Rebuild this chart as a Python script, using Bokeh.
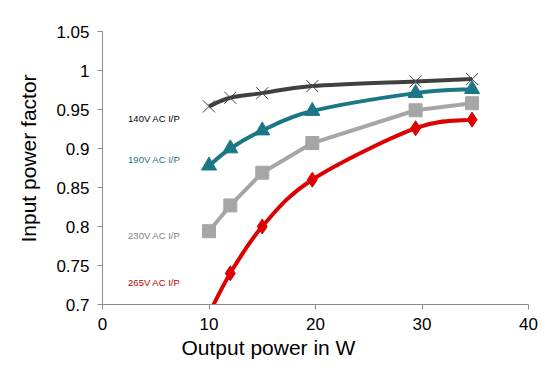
from bokeh.plotting import figure
from bokeh.models import Label, FixedTicker, CustomJSTickFormatter, Range1d, Title
from bokeh.embed import file_html
from bokeh.resources import INLINE

# ---- data ----
x_140 = [10, 12, 15, 19.7, 29.4, 34.7]
pf_140 = [0.954, 0.965, 0.971, 0.980, 0.986, 0.989]

x_190 = [10, 12, 15, 19.7, 29.4, 34.7]
pf_190 = [0.878, 0.900, 0.923, 0.948, 0.971, 0.976]

x_230 = [10, 12, 15, 19.7, 29.4, 34.7]
pf_230 = [0.794, 0.827, 0.869, 0.907, 0.949, 0.958]

x_265 = [10, 12, 15, 19.7, 29.4, 34.7]
pf_265 = [0.688, 0.740, 0.800, 0.860, 0.926, 0.937]

series_names = ["140V AC I/P", "190V AC I/P", "230V AC I/P", "265V AC I/P"]
x_ticks = [0, 10, 20, 30, 40]
y_ticks = [0.7, 0.75, 0.8, 0.85, 0.9, 0.95, 1.0, 1.05]

FONT = "Liberation Sans"

p = figure(width=542, height=359, output_backend="svg", toolbar_location=None,
           x_range=Range1d(0, 40), y_range=Range1d(0.7, 1.05),
           min_border_left=101, min_border_right=14, min_border_top=31, min_border_bottom=10)
p.outline_line_color = None
p.xgrid.visible = False
p.ygrid.visible = False
p.background_fill_color = "white"
p.border_fill_color = "white"

for ax in (p.xaxis, p.yaxis):
    ax.axis_line_color = "#8c8c8c"
    ax.major_tick_line_color = "#8c8c8c"
    ax.minor_tick_line_color = None
    ax.major_tick_in = 0
    ax.major_tick_out = 5
    ax.major_label_text_font = FONT
    ax.major_label_text_font_size = "17px"
    ax.major_label_text_color = "black"

p.xaxis.ticker = FixedTicker(ticks=x_ticks)
p.yaxis.ticker = FixedTicker(ticks=y_ticks)
p.yaxis.formatter = CustomJSTickFormatter(code="return Number(tick.toFixed(2)).toString();")
p.yaxis.major_label_standoff = 8
p.xaxis.major_label_standoff = 8


def smooth_bezier(xs, ys):
    n = len(xs)
    X0, Y0, X1, Y1, CX0, CY0, CX1, CY1 = [], [], [], [], [], [], [], []
    for i in range(n - 1):
        xm = xs[i - 1] if i > 0 else xs[i]
        ym = ys[i - 1] if i > 0 else ys[i]
        xp = xs[i + 2] if i + 2 < n else xs[i + 1]
        yp = ys[i + 2] if i + 2 < n else ys[i + 1]
        X0.append(xs[i]); Y0.append(ys[i]); X1.append(xs[i + 1]); Y1.append(ys[i + 1])
        CX0.append(xs[i] + (xs[i + 1] - xm) / 6); CY0.append(ys[i] + (ys[i + 1] - ym) / 6)
        CX1.append(xs[i + 1] - (xp - xs[i]) / 6); CY1.append(ys[i + 1] - (yp - ys[i]) / 6)
    return dict(x0=X0, y0=Y0, x1=X1, y1=Y1, cx0=CX0, cy0=CY0, cx1=CX1, cy1=CY1)


c140, c190, c230, c265 = "#404040", "#1b7687", "#a6a6a6", "#dd0000"

# 140V
p.bezier(line_color=c140, line_width=4, **smooth_bezier(x_140, pf_140))
p.scatter(x_140, pf_140, marker="x", size=17, line_color=c140, line_width=1)
# 190V
p.bezier(line_color=c190, line_width=4, **smooth_bezier(x_190, pf_190))
p.scatter(x_190, pf_190, marker="triangle", size=15, fill_color=c190, line_color=c190)
# 230V
p.line(x_230, pf_230, line_color=c230, line_width=4)
p.scatter(x_230, pf_230, marker="square", size=13, fill_color=c230, line_color=c230)
# 265V
p.bezier(line_color=c265, line_width=4, **smooth_bezier(x_265, pf_265))
p.scatter(x_265, pf_265, marker="diamond", size=15, fill_color=c265, line_color=c265)

label_cols = ["black", "#1b7687", "#808080", "#c00000"]
label_y = [0.939, 0.886, 0.788, 0.728]
for name, col, yy in zip(series_names, label_cols, label_y):
    p.add_layout(Label(x=2.4, y=yy, text=name, text_color=col, text_font=FONT,
                       text_font_size="9.5px", text_baseline="middle"))

# axis titles
p.add_layout(Title(text="Output power in W", text_font=FONT, text_font_size="21px",
                   text_font_style="normal", align="left", offset=79,
                   text_color="black", standoff=2), "below")
p.add_layout(Title(text="Input power factor", text_font=FONT, text_font_size="21px",
                   text_font_style="normal", align="left", offset=62,
                   text_color="black", standoff=28), "left")

open("out.html", "w").write(file_html(p, INLINE))
